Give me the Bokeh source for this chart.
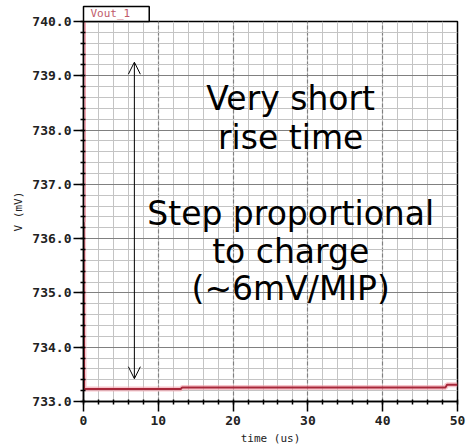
from bokeh.plotting import figure
from bokeh.models import (Range1d, SingleIntervalTicker, PrintfTickFormatter,
                          Arrow, OpenHead, Title)
from bokeh.core.properties import value
from bokeh.embed import file_html
from bokeh.resources import INLINE

# ---- data ----
time_us = [0.0, 0.08, 0.3, 13.0, 13.2, 48.4, 48.6, 50.0]
vout_mv = [736.3, 733.23, 733.23, 733.23, 733.26, 733.26, 733.31, 733.31]
spike_t = [0.0, 0.0]
spike_v = [736.3, 740.0]
series_name = "Vout_1"
arrow_t = 6.8
arrow_from = 739.25
arrow_to = 733.42
notes_top = ["Very short", "rise time"]
notes_bottom = ["Step proportional", "to charge", "(~6mV/MIP)"]

mono = "DejaVu Sans Mono"
tab = Title(text=series_name, align="left", text_font=mono, text_font_size="11px",
            text_font_style="normal", text_color="#c05a6a",
            border_line_color="black", border_line_width=1.5,
            background_fill_color="white", standoff=0,
            padding=dict(left=7, right=19, top=0, bottom=2))

p = figure(width=471, height=448, output_backend="svg", toolbar_location=None,
           x_range=Range1d(0, 50), y_range=Range1d(733, 740),
           min_border_left=83, min_border_right=14, min_border_top=21,
           min_border_bottom=47, title=tab)
p.background_fill_color = "white"
p.border_fill_color = "white"
p.outline_line_color = "black"
p.outline_line_width = 1.5

xt = SingleIntervalTicker(interval=10, num_minor_ticks=5)
yt = SingleIntervalTicker(interval=1, num_minor_ticks=5)
p.xaxis.ticker = xt
p.yaxis.ticker = yt
p.xgrid.ticker = xt
p.ygrid.ticker = yt
p.yaxis.formatter = PrintfTickFormatter(format="%.1f")
p.xaxis.formatter = PrintfTickFormatter(format="%d")
for ax in (p.xaxis, p.yaxis):
    ax.axis_line_color = "black"
    ax.axis_line_width = 1.5
    ax.major_tick_line_color = "black"
    ax.major_tick_line_width = 1.5
    ax.minor_tick_line_color = "black"
    ax.minor_tick_line_width = 1.5
    ax.major_tick_out = 10
    ax.major_tick_in = 0
    ax.minor_tick_out = 3
    ax.minor_tick_in = 2
    ax.major_label_text_font = mono
    ax.major_label_text_font_size = "13px"
    ax.major_label_text_font_style = "bold"
    ax.major_label_text_color = "#222222"
    ax.axis_label_text_font = mono
    ax.axis_label_text_font_size = "11px"
    ax.axis_label_text_font_style = "normal"
    ax.axis_label_text_color = "#222222"
p.xaxis.axis_label = "time (us)"
p.yaxis.axis_label = "V (mV)"
p.xaxis.axis_label_standoff = 4
p.yaxis.axis_label_standoff = 4
p.xaxis.major_label_standoff = 4
p.yaxis.major_label_standoff = 2

for g in (p.xgrid[0], p.ygrid[0]):
    g.grid_line_color = "#808080"
    g.grid_line_width = 1.2
    g.minor_grid_line_color = "#c4c4c4"
    g.minor_grid_line_width = 1
p.xgrid[0].grid_line_dash = "4 2"

# waveform
p.line(spike_t, spike_v, line_color="#f2a8b4", line_width=5)
p.line(time_us, vout_mv, line_color="#f2a0ac", line_width=5, line_alpha=0.6)
p.line(time_us, vout_mv, line_color="#a8283a", line_width=2)

# arrow
p.add_layout(Arrow(x_start=arrow_t, y_start=arrow_to, x_end=arrow_t, y_end=arrow_from,
                   line_color="black", line_width=1,
                   start=OpenHead(size=12, line_color="black", line_width=1),
                   end=OpenHead(size=12, line_color="black", line_width=1)))

# annotation texts
cx = 27.7
top_y = [738.58 - i * 0.72 for i in range(len(notes_top))]
bot_y = [736.46 - i * 0.69 for i in range(len(notes_bottom))]
p.text(x=[cx] * len(notes_top), y=top_y, text=notes_top,
       text_font=value("DejaVu Sans"), text_font_size="33px",
       text_align="center", text_baseline="middle", text_color="black")
p.text(x=[cx] * len(notes_bottom), y=bot_y, text=notes_bottom,
       text_font=value("DejaVu Sans"), text_font_size="33px",
       text_align="center", text_baseline="middle", text_color="black")

open("out.html", "w").write(file_html(p, INLINE))
